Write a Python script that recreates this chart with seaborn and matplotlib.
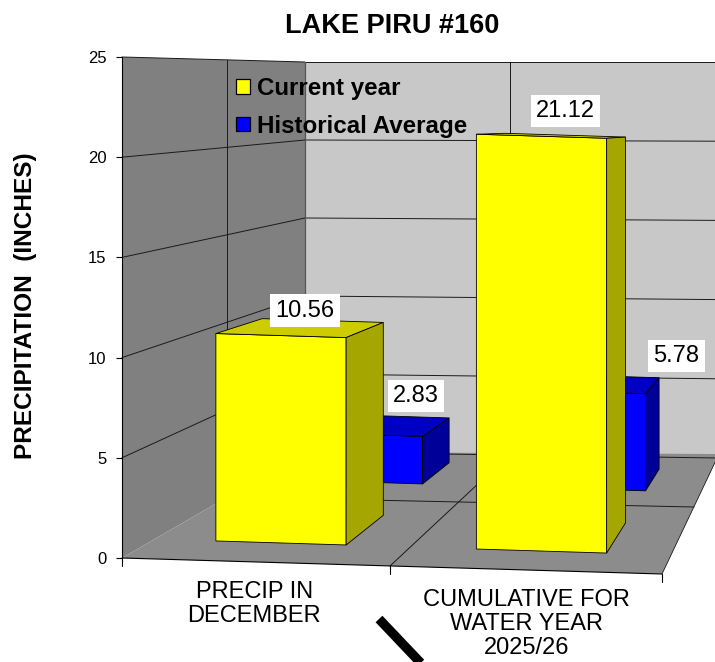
import numpy as np
import pandas as pd
import matplotlib
matplotlib.use("Agg")
import matplotlib.pyplot as plt
from matplotlib.patches import Polygon, Patch
from matplotlib.lines import Line2D
from matplotlib.transforms import Affine2D, IdentityTransform
import seaborn as sns

# ---- data -------------------------------------------------------------
title = "LAKE PIRU #160"
categories = ["PRECIP IN\nDECEMBER", "CUMULATIVE FOR\nWATER YEAR\n2025/26"]
current_year = [10.56, 21.12]
historical_avg = [2.83, 5.78]
series_names = ["Current year", "Historical Average"]
y_ticks = [0, 5, 10, 15, 20, 25]
y_label = "PRECIPITATION  (INCHES)"

# ---- style ------------------------------------------------------------
sns.set_style("white")
plt.rcParams["font.family"] = ["Liberation Sans", "DejaVu Sans"]
plt.rcParams["text.color"] = "black"
plt.rcParams["ytick.color"] = "black"
plt.rcParams["xtick.color"] = "black"

YELLOW, YELLOW_TOP, YELLOW_SIDE = "#FFFF00", "#CCCC00", "#A6A600"
BLUE, BLUE_TOP, BLUE_SIDE = "#0000FF", "#0000C4", "#000099"
LEFT_WALL, BACK_WALL, FLOOR = "#808080", "#C8C8C8", "#8C8C8C"
GRID = "#1a1a1a"

W, H = 715, 662
fig = plt.figure(figsize=(W / 100, H / 100), dpi=100)
fig.patch.set_facecolor("white")


def fx(x):
    return x / W


def fy(y):
    return 1 - y / H


# pixel coordinates measured from the top-left corner -> display
PX = Affine2D().scale(1, -1).translate(0, H)

# front plane of the first row of columns
ax = fig.add_axes([fx(150.75), fy(547), 521.0 / W, 491.0 / H])

df = pd.DataFrame({"category": categories,
                   "current": current_year,
                   "hist": historical_avg})

n0 = len(ax.patches)
sns.barplot(data=df, x="category", y="hist", color=BLUE, saturation=1,
            width=0.5, edgecolor="black", linewidth=0.6, errorbar=None, ax=ax)
blue_bars = list(ax.patches[n0:])
n1 = len(ax.patches)
sns.barplot(data=df, x="category", y="current", color=YELLOW, saturation=1,
            width=0.5, edgecolor="black", linewidth=0.6, errorbar=None, ax=ax)
yellow_bars = list(ax.patches[n1:])

ax.set_xlim(-0.5, 1.5)
ax.set_ylim(0, 25)
ax.set_axis_off()

# slight rotation of the front plane and a vanishing point for depth
tilt = Affine2D.from_values(1, -0.031, 0, 1, 0, 0.031 * 411.25)
VP = (877.0, H - 121.0)


def depth(d):
    return Affine2D().translate(-VP[0], -VP[1]).scale(1 - d).translate(*VP)


base = ax.transData + tilt


def chain(d):
    return base + depth(d)


def extrude(bar, d_front, d_back, top_c, side_c, z):
    x0, w, h = bar.get_x(), bar.get_width(), bar.get_height()
    corners = np.array([[x0, 0], [x0 + w, 0], [x0 + w, h], [x0, h]])
    f = chain(d_front).transform(corners)
    b = chain(d_back).transform(corners)
    bar.set_transform(chain(d_front))
    bar.set_zorder(z)
    bar.set_clip_on(False)
    for pts, col in (([f[3], f[2], b[2], b[3]], top_c),
                     ([f[1], b[1], b[2], f[2]], side_c)):
        ax.add_patch(Polygon(pts, closed=True, facecolor=col, edgecolor="black",
                             linewidth=0.6, transform=IdentityTransform(),
                             zorder=z + 0.1, clip_on=False))
    return f, b


# ---- walls, floor and gridlines ----------------------------------------
def y_left(v):
    return 558 - 20.04 * v


def y_back(v):
    return 452 - 15.6 * v


def px_poly(pts, color, z):
    ax.add_patch(Polygon(pts, closed=True, facecolor=color, edgecolor="none",
                         transform=PX, zorder=z, clip_on=False))


def px_line(xs, ys, lw=0.7, color=GRID, z=0.8):
    ax.add_line(Line2D(xs, ys, color=color, linewidth=lw, transform=PX,
                       zorder=z, clip_on=False))


px_poly([(122, y_left(25)), (305, y_back(25)), (305, y_back(0)), (122, y_left(0))],
        LEFT_WALL, 0.5)
px_poly([(305, y_back(25)), (730, y_back(25)), (730, y_back(0) + 6), (305, y_back(0))],
        BACK_WALL, 0.5)
px_poly([(122, 558), (662, 574), (719, 454), (305, y_back(0))], FLOOR, 0.5)

for v in y_ticks[1:]:
    px_line([122, 305], [y_left(v), y_back(v)])
    px_line([305, 718], [y_back(v), y_back(v) + 6 * (1 - v / 25)])
px_line([305, 718], [y_back(0), y_back(0) + 6])
px_line([305, 305], [y_back(25), y_back(0)], lw=0.9, color="#555555")
px_line([227, 227], [59.9, 497.2])
px_line([510, 510], [y_back(25), 454])
px_line([390, 510], [566, 454])
px_line([227, 694], [497, 507])
px_line([122, 662], [558, 574], lw=0.8, color="black")
px_line([662, 719], [574, 454], lw=0.6)
for tx, ty in ((122, 558), (390, 566), (662, 574)):
    px_line([tx, tx], [ty, ty + 8], lw=0.8, color="black")

# ---- columns -------------------------------------------------------------
blue_geo = [extrude(b, 0.144, 0.194, BLUE_TOP, BLUE_SIDE, 2) for b in blue_bars]
yellow_geo = [extrude(b, 0.0, 0.07, YELLOW_TOP, YELLOW_SIDE, 3) for b in yellow_bars]

to_fig = fig.transFigure.inverted()
box = dict(boxstyle="square,pad=0.22", facecolor="white", edgecolor="none")

for i, (val, bar) in enumerate(zip(current_year, yellow_bars)):
    p = base.transform((i, val))
    fxy = to_fig.transform((p[0] + 24, p[1] + 25))
    fig.text(fxy[0], fxy[1], f"{val:.2f}", ha="center", va="center",
             fontsize=17, bbox=box, zorder=6)

for i, (val, bar) in enumerate(zip(historical_avg, blue_bars)):
    x_lab = base.transform((i, 0))[0] + 135
    y_top = chain(0.194).transform((bar.get_x() + bar.get_width(), val))[1]
    fxy = to_fig.transform((x_lab, y_top + 22))
    fig.text(fxy[0], fxy[1], f"{val:.2f}", ha="center", va="center",
             fontsize=17, bbox=box, zorder=6)

# category labels along the front edge of the floor
for i, cat in enumerate(categories):
    p = chain(-0.045).transform((i, 0))
    fxy = to_fig.transform((p[0], p[1] - 19))
    fig.text(fxy[0], fxy[1], cat, ha="center", va="top", fontsize=17,
             linespacing=1.12, multialignment="center")

# ---- value axis ------------------------------------------------------------
ax_y = fig.add_axes([fx(122), fy(558), 0.0005, 501.0 / H])
ax_y.set_ylim(0, 25)
ax_y.set_yticks(y_ticks)
ax_y.set_xticks([])
ax_y.patch.set_alpha(0)
for side in ("top", "right", "bottom"):
    ax_y.spines[side].set_visible(False)
ax_y.spines["left"].set_color("black")
ax_y.spines["left"].set_linewidth(0.8)
ax_y.tick_params(axis="y", direction="out", length=4, width=0.8, pad=7,
                 labelsize=12, colors="black", left=True)

# ---- legend, titles ----------------------------------------------------------
handles = [Patch(facecolor=YELLOW, edgecolor="black", linewidth=0.9, label=series_names[0]),
           Patch(facecolor=BLUE, edgecolor="black", linewidth=0.9, label=series_names[1])]
leg = ax.legend(handles=handles, loc="upper left",
                bbox_to_anchor=(fx(236), fy(77)), bbox_transform=fig.transFigure,
                frameon=False, prop=dict(weight="bold", size=17.4),
                handlelength=0.56, handleheight=0.56, handletextpad=0.3,
                borderpad=0, borderaxespad=0, labelspacing=0.6)
leg.set_zorder(6)
for t in leg.get_texts():
    t.set_color("black")

fig.text(fx(392.5), fy(33), title, ha="center", va="baseline",
         fontsize=19.5, fontweight="bold")
fig.text(fx(26), fy(305.5), y_label, rotation=90, ha="center", va="center",
         fontsize=17.6, fontweight="bold")

# heavy stroke beneath the category axis
fig.add_artist(Line2D([fx(379), fx(426)], [fy(619), fy(668.5)],
                      transform=fig.transFigure, color="black", linewidth=6.8,
                      solid_capstyle="butt"))

fig.savefig("out.png", dpi=100)
